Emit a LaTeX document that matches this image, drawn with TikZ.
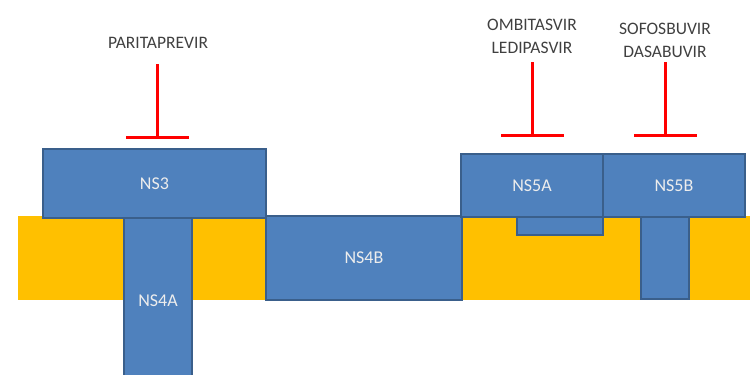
\documentclass[tikz,border=0pt]{standalone}
\usepackage{fontspec}
\setmainfont{Carlito}
\usetikzlibrary{arrows.meta}
\colorlet{background}{white}
\definecolor{protColor}{HTML}{4F81BD}
\definecolor{protBorder}{HTML}{3A5F8B}
\definecolor{membColor}{HTML}{FFC000}
\definecolor{drugColor}{HTML}{FF0000}
\definecolor{textColor}{HTML}{404040}
\tikzset{
  prot/.style={draw=protBorder,fill=protColor,line width=1.3pt,inner sep=0pt,
    text=white!93!black,font=\fontsize{18}{18}\selectfont},
  memb/.style={fill=membColor,draw=none,inner sep=0pt},
  drug/.style={text=textColor,align=center,font=\fontsize{17.5}{23}\selectfont},
  inhib/.style={drugColor,line width=3pt,-{Bar[width=63pt,line width=3pt]}}
}

\begin{document}
\begin{tikzpicture}[x=1pt,y=-1pt]
		\useasboundingbox (0,0) rectangle (750,375);
		\node[memb,minimum width=740pt,minimum height=84pt] (membrane) at (388,258) {};% lipid layer
		
		\node[prot,minimum width=196pt,minimum height=84pt] (ns4b) at (364,258) {NS4B};
		\node[prot,minimum width=68pt,minimum height=166pt] (ns4a) at (158,301) {NS4A};
		\node[prot,minimum width=223pt,minimum height=69pt] (ns3) at (154.5,183.5) {NS3};
		
		\node[prot,minimum width=86pt,minimum height=20pt] (ns5atab) at (560,225) {};
		\node[prot,minimum width=142pt,minimum height=63pt] (ns5a) at (532,185.5) {NS5A};
		\node[prot,minimum width=48pt,minimum height=82pt] (ns5bstem) at (665,258) {};
		\node[prot,minimum width=142pt,minimum height=63pt] (ns5b) at (674,185.5) {NS5B};
		
		% drugs
		\node[drug] (parit) at (158,43) {PARITAPREVIR};
		\node[drug] (ombit) at (532,36.5) {OMBITASVIR\\LEDIPASVIR};
		\node[drug] (sofos) at (665,40.5) {SOFOSBUVIR\\DASABUVIR};
		
		\coordinate (p1) at (157,64);
		\coordinate (p2) at (157,139);
		\coordinate (o1) at (532,62);
		\coordinate (o2) at (532,137);
		\coordinate (s1) at (665,62);
		\coordinate (s2) at (665,137);
		\draw[inhib] (p1) -- (p2);
		\draw[inhib] (o1) -- (o2);
		\draw[inhib] (s1) -- (s2);
\end{tikzpicture}
\end{document}
